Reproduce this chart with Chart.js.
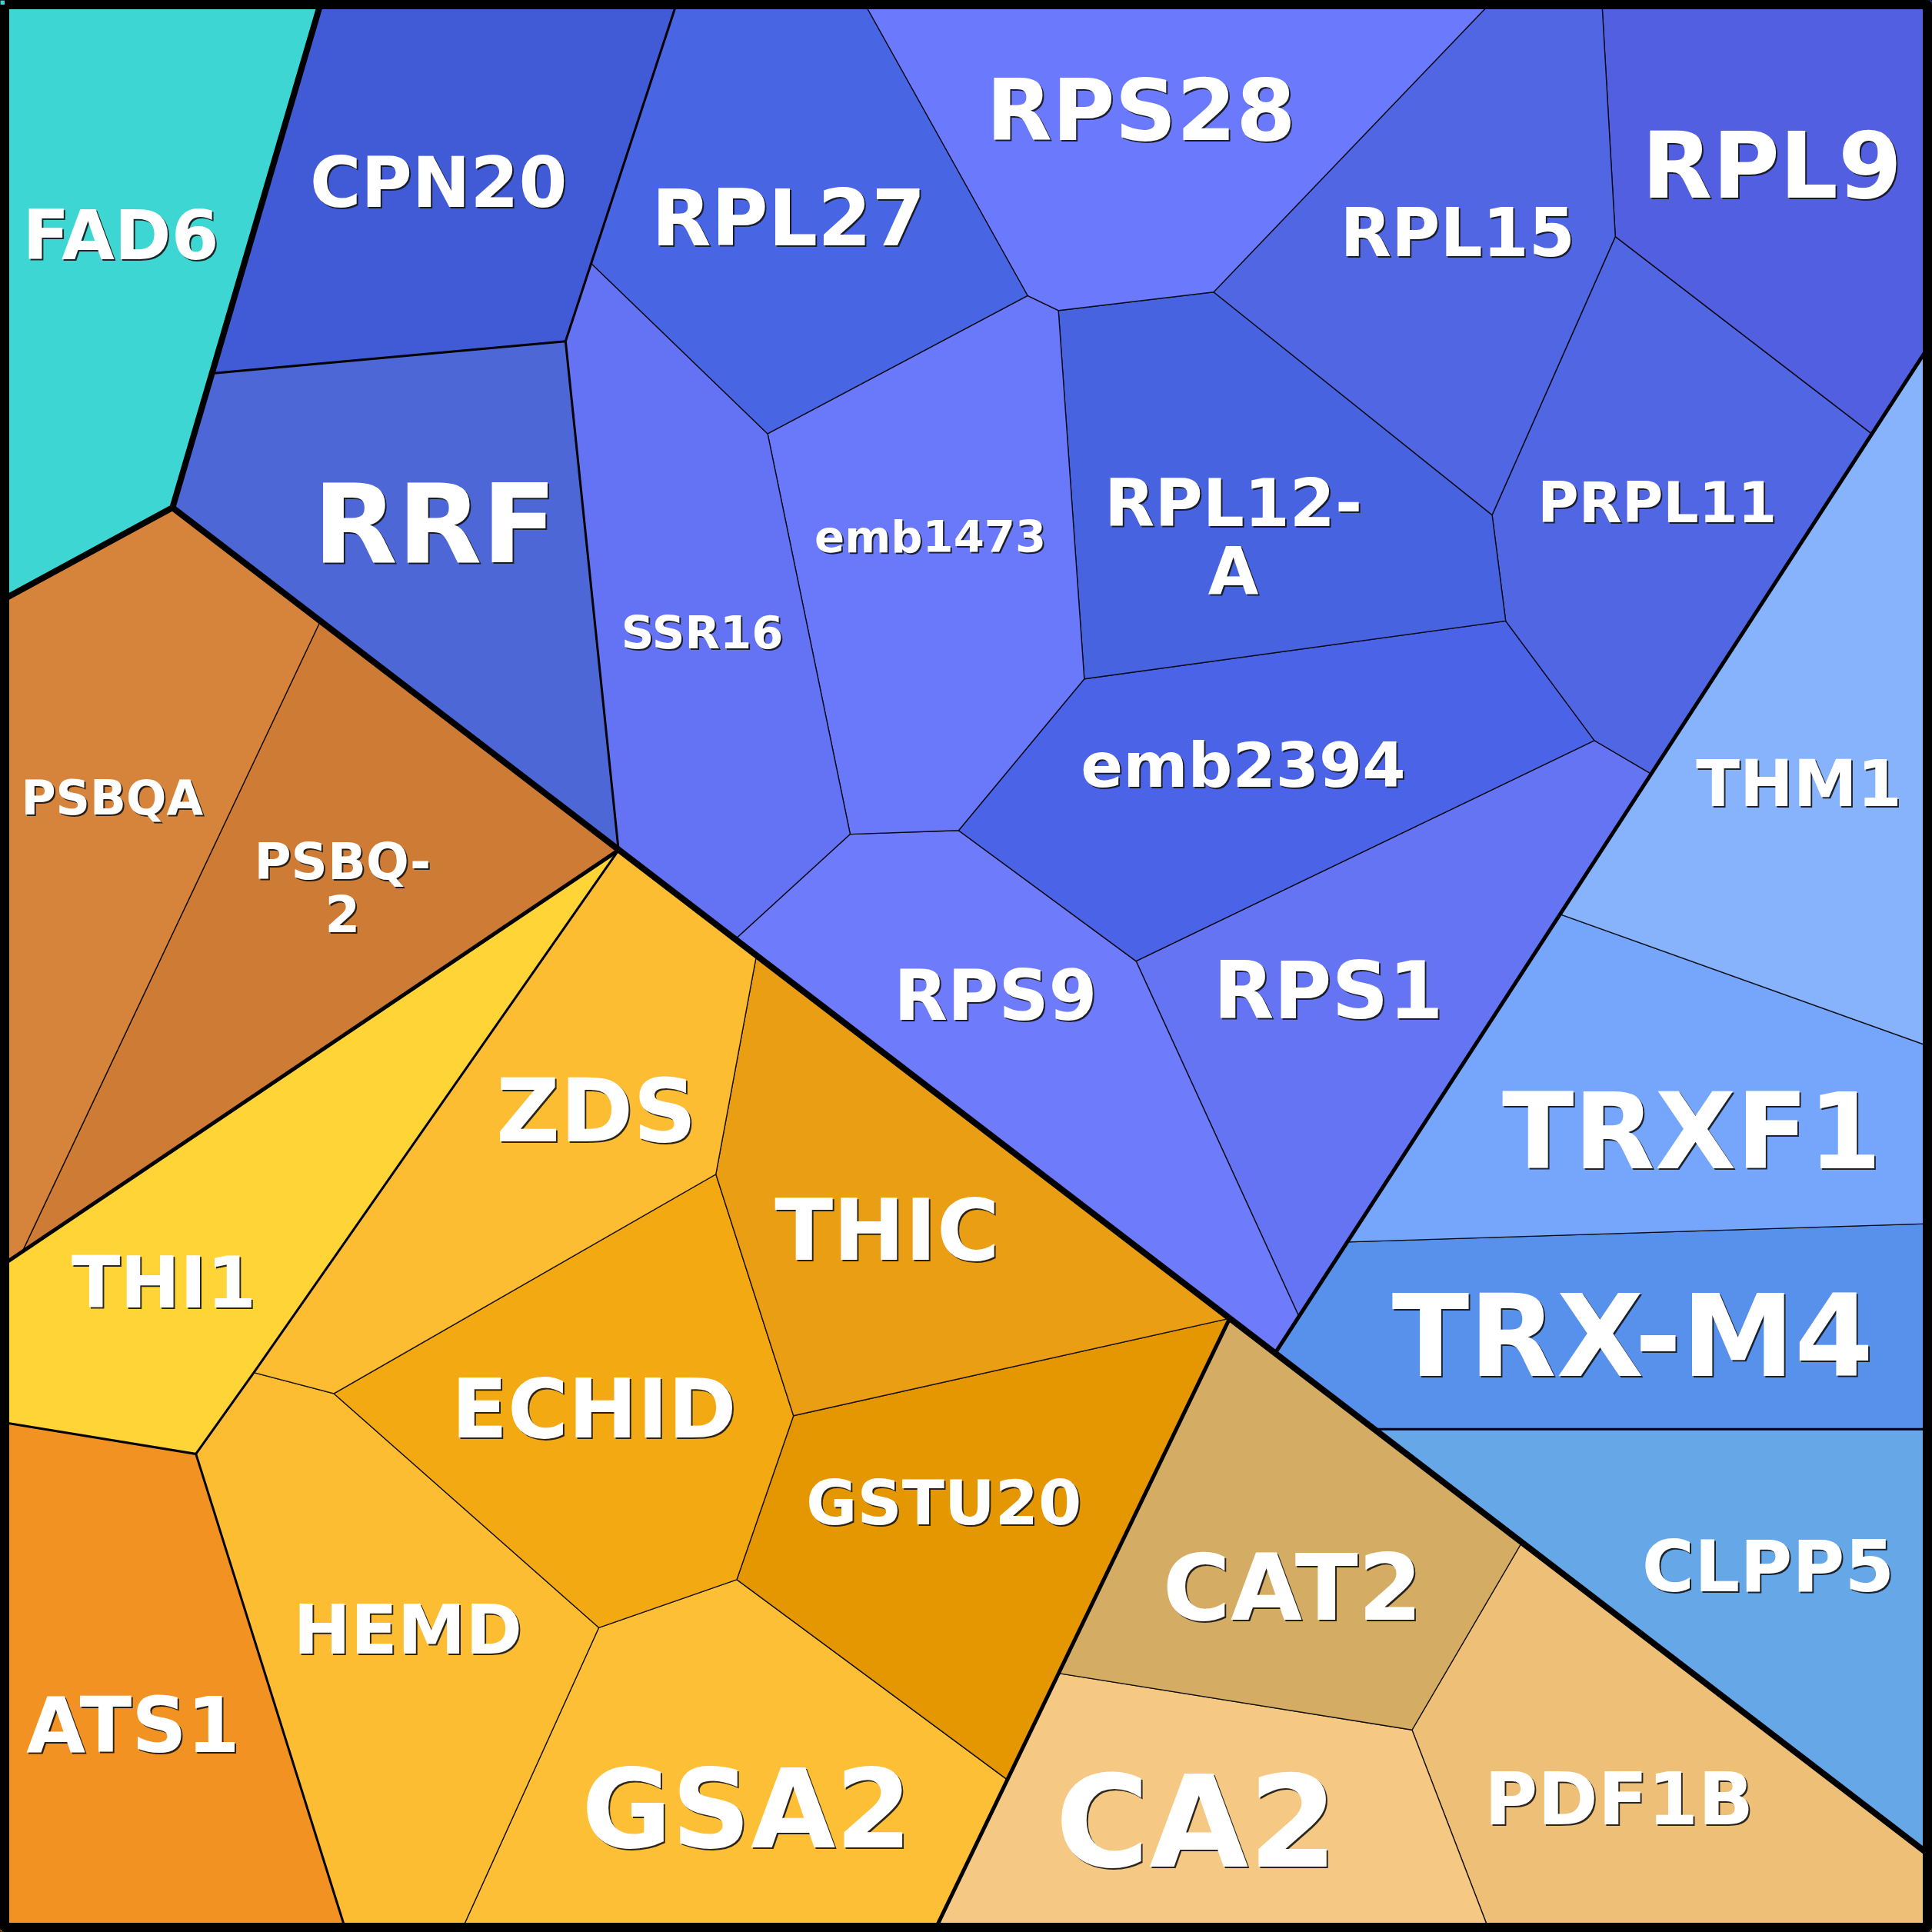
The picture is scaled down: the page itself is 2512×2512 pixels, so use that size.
<!DOCTYPE html>
<html>
<head>
<meta charset="utf-8">
<script src="https://cdn.jsdelivr.net/npm/chart.js@4.4.1/dist/chart.umd.min.js"></script>
<style>
  html, body { margin: 0; padding: 0; background: #fff; }
  #wrap { width: 2512px; height: 2512px; }
</style>
</head>
<body>
<div id="wrap"><canvas id="chart"></canvas></div>
<script>
// Voronoi treemap cells, coordinates in a 1568 x 1568 plane (y grows downward)
const genes = ['FAD6', 'CPN20', 'RRF', 'RPL27', 'RPS28', 'RPL15', 'RPL9', 'SSR16', 'emb1473', 'RPL12-A',
  'PRPL11', 'emb2394', 'RPS9', 'RPS1', 'THM1', 'TRXF1', 'TRX-M4', 'CLPP5', 'PSBQA', 'PSBQ-2',
  'THI1', 'ZDS', 'THIC', 'ECHID', 'GSTU20', 'HEMD', 'ATS1', 'GSA2', 'CAT2', 'CA2', 'PDF1B'];

const colors = ['#3dd6d2', '#415bd6', '#4d68d6', '#4866e3', '#6b7afc', '#5066e2', '#525fe0', '#6472f4', '#6a79fa', '#4763e0',
  '#5066e3', '#4b63e6', '#6e7bfb', '#6574f2', '#86b3fc', '#76a5fc', '#5891eb', '#65a7e7', '#d6843b', '#ce7b35',
  '#fed437', '#fdbd33', '#e99e13', '#f3aa12', '#e49700', '#fdbd33', '#f29223', '#fdbf35', '#d5ac64', '#f5c983', '#edbf77'];

const cells = [
  [[0,0],[261,0],[140,412],[0,488]],
  [[261,0],[550,0],[459,277],[172,303]],
  [[172,303],[459,277],[502,690],[140,412]],
  [[550,0],[700,0],[834,240],[623,352],[480,214]],
  [[700,0],[1212,0],[985,237],[859,252],[834,240]],
  [[1212,0],[1300,0],[1311,192],[1211,418],[985,237]],
  [[1300,0],[1568,0],[1568,277],[1519,352],[1311,192]],
  [[459,277],[480,214],[623,352],[690,677],[597,762],[502,690]],
  [[623,352],[834,240],[859,252],[880,551],[778,674],[690,677]],
  [[859,252],[985,237],[1211,418],[1222,504],[880,551]],
  [[1311,192],[1519,352],[1340,628],[1294,601],[1222,504],[1211,418]],
  [[880,551],[1222,504],[1294,601],[922,780],[778,674]],
  [[690,677],[778,674],[922,780],[1054,1068],[1035,1098],[597,762]],
  [[922,780],[1294,601],[1340,628],[1054,1068]],
  [[1568,277],[1568,850],[1266,742]],
  [[1266,742],[1568,850],[1568,993],[1094,1008]],
  [[1094,1008],[1568,993],[1568,1160],[1116,1160],[1035,1098]],
  [[1116,1160],[1568,1160],[1568,1507]],
  [[0,488],[140,412],[260,504],[18,1016],[0,1028]],
  [[260,504],[502,690],[18,1016]],
  [[0,1028],[502,690],[206,1114],[159,1180],[0,1154]],
  [[502,690],[614,775],[581,953],[271,1131],[206,1114]],
  [[614,775],[998,1070],[644,1149],[581,953]],
  [[271,1131],[581,953],[644,1149],[598,1282],[486,1321]],
  [[644,1149],[998,1070],[817,1444],[598,1282]],
  [[206,1114],[271,1131],[486,1321],[374,1568],[281,1568],[159,1180]],
  [[0,1154],[159,1180],[281,1568],[0,1568]],
  [[486,1321],[598,1282],[817,1444],[758,1568],[374,1568]],
  [[998,1070],[1235,1252],[1146,1404],[859,1358]],
  [[859,1358],[1146,1404],[1209,1568],[758,1568]],
  [[1146,1404],[1235,1252],[1568,1507],[1568,1568],[1209,1568]]
];

// hierarchy boundaries: top level, second level, sub-groups
const topEdges = [
  [[261,0],[140,412],[0,488]],
  [[140,412],[1568,1507]]
];
const groupEdges = [
  [[502,690],[0,1028]],
  [[998,1070],[758,1568]],
  [[1568,277],[1035,1098]]
];
const subEdges = [
  [[550,0],[459,277],[502,690]],
  [[172,303],[459,277]],
  [[0,1154],[159,1180],[281,1568]],
  [[159,1180],[206,1114],[502,690]],
  [[1116,1160],[1568,1160]]
];
const frame = [[3.75,3.75],[1564.25,3.75],[1564.25,1564.25],[3.75,1564.25],[3.75,3.75]];

// label layout: cap-centre position and font size, same 1568 plane
const labelPos = [[98,190],[356,147],[353,424],[640,176],[926,88],[1183,188],[1438,133],[570,513],[755,435],[1001,435],
  [1345,407],[1009,620],[808,807],[1078,803],[1460,635],[1373,917],[1325,1083],[1435,1270],[91,647],[278,720],
  [133,1040],[484,900],[720,997],[482,1142],[766,1219],[331,1322],[108,1399],[606,1467],[1049,1287],[971,1477],[1314,1459]];
const labelSize = [55.5,56.5,89,63,69.5,54,74.5,37,36,53,45.5,50.5,56.5,64,52,85.5,92,58,38.5,41,
  58,71.5,69.5,67,50.5,55.5,62,89,75,104,59];
const wrapped = ['RPL12-A', 'PSBQ-2'];

const asPoints = vs => vs.map(v => ({x: v[0], y: v[1]}));

const datasets = [];
datasets.push({ data: asPoints(frame), borderColor: '#000', borderWidth: 12, borderJoinStyle: 'round', order: 0 });
topEdges.forEach(e => datasets.push({ data: asPoints(e), borderColor: '#000', borderWidth: 8, borderCapStyle: 'round', order: 1 }));
groupEdges.forEach(e => datasets.push({ data: asPoints(e), borderColor: '#000', borderWidth: 5, borderCapStyle: 'round', order: 2 }));
subEdges.forEach(e => datasets.push({ data: asPoints(e), borderColor: '#000', borderWidth: 3, order: 3 }));
cells.forEach((c, i) => datasets.push({
  label: genes[i],
  data: asPoints(c.concat([c[0]])),
  polyFill: colors[i],
  borderColor: 'rgba(0,0,0,0.85)',
  borderWidth: 1.4,
  order: 4
}));

const polygonFill = {
  id: 'polygonFill',
  beforeDatasetDraw(chart, args) {
    const ds = chart.data.datasets[args.index];
    if (!ds.polyFill) return;
    const pts = args.meta.data;
    const ctx = chart.ctx;
    ctx.save();
    ctx.beginPath();
    pts.forEach((p, k) => k ? ctx.lineTo(p.x, p.y) : ctx.moveTo(p.x, p.y));
    ctx.closePath();
    ctx.fillStyle = ds.polyFill;
    ctx.fill();
    ctx.restore();
  }
};

const cellLabels = {
  id: 'cellLabels',
  afterDatasetsDraw(chart) {
    const ctx = chart.ctx;
    const xs = chart.scales.x, ys = chart.scales.y;
    const unit = xs.getPixelForValue(1) - xs.getPixelForValue(0);
    ctx.save();
    ctx.textAlign = 'center';
    ctx.textBaseline = 'alphabetic';
    genes.forEach((g, i) => {
      const size = labelSize[i] * unit;
      const lines = wrapped.includes(g) ? [g.slice(0, g.indexOf('-') + 1), g.slice(g.indexOf('-') + 1)] : [g];
      const lh = size * 1.04;
      const cx = xs.getPixelForValue(labelPos[i][0]);
      const cy = ys.getPixelForValue(labelPos[i][1]);
      ctx.font = 'bold ' + size + 'px "DejaVu Sans"';
      lines.forEach((t, k) => {
        const y = cy + size * 0.365 + (k - (lines.length - 1) / 2) * lh;
        ctx.fillStyle = 'rgba(20,20,20,0.9)';
        ctx.fillText(t, cx + 2, y + 2);
        ctx.fillStyle = '#fff';
        ctx.fillText(t, cx, y);
      });
    });
    ctx.restore();
  }
};

new Chart(document.getElementById('chart'), {
  type: 'scatter',
  data: { datasets: datasets },
  options: {
    responsive: true,
    maintainAspectRatio: false,
    animation: false,
    layout: { padding: 0 },
    datasets: { scatter: { showLine: true, pointRadius: 0, pointHoverRadius: 0, tension: 0, fill: false } },
    plugins: { legend: { display: false }, tooltip: { enabled: false } },
    scales: {
      x: { type: 'linear', min: 0, max: 1568, display: false },
      y: { type: 'linear', min: 0, max: 1568, reverse: true, display: false }
    }
  },
  plugins: [polygonFill, cellLabels]
});
</script>
</body>
</html>
